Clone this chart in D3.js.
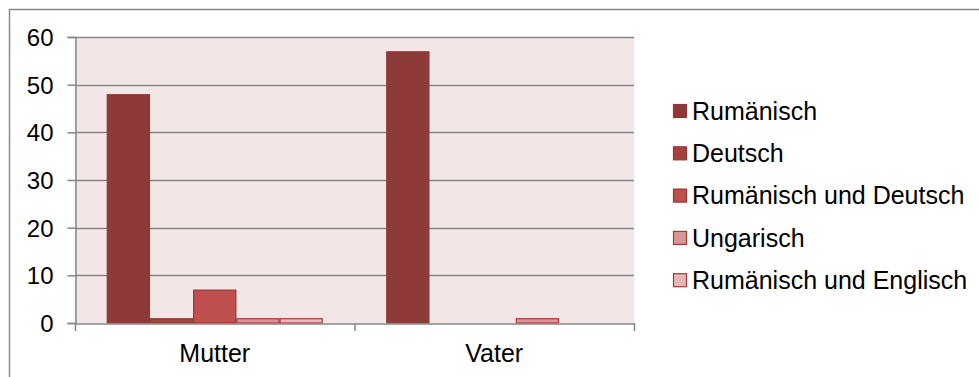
<!DOCTYPE html>
<html>
<head>
<meta charset="utf-8">
<script src="https://cdn.jsdelivr.net/npm/d3@7"></script>
<style>
  html, body { margin: 0; padding: 0; background: #fff; }
  svg { display: block; font-family: "Liberation Sans", Arial, sans-serif; }
</style>
</head>
<body>
<svg id="chart" width="979" height="377"></svg>
<script>
// Categories on the x axis
const categories = ["Mutter", "Vater"];
// Series (languages) in legend order
const seriesNames = ["Rumänisch", "Deutsch", "Rumänisch und Deutsch", "Ungarisch", "Rumänisch und Englisch"];
// Values per series, one entry per category
const rumaenisch = [48, 57];
const deutsch = [1, 0];
const rumaenischDeutsch = [7, 0];
const ungarisch = [1, 1];
const rumaenischEnglisch = [1, 0];
const yTicks = [0, 10, 20, 30, 40, 50, 60];

const seriesValues = [rumaenisch, deutsch, rumaenischDeutsch, ungarisch, rumaenischEnglisch];
const fills = ["#8e3a38", "#a7413e", "#c0504d", "#d99694", "#e6b9b8"];
const strokes = ["#8e3a38", "#8e3a38", "#953735", "#a03c3a", "#a03c3a"];
const fontSize = 25;

const svg = d3.select("#chart");

// Outer chart frame
svg.append("rect")
  .attr("x", 9.5).attr("y", 9.5)
  .attr("width", 1000).attr("height", 400)
  .attr("fill", "#fff").attr("stroke", "#8a8a8a").attr("stroke-width", 1.5);

const plot = { left: 75, right: 634, top: 37, bottom: 323 };

const x0 = d3.scaleBand().domain(categories).range([plot.left, plot.right]).paddingInner(0).paddingOuter(0);
const x1 = d3.scaleBand().domain(seriesNames).range([0, x0.bandwidth()]).paddingOuter(0.735).paddingInner(0);
const y = d3.scaleLinear().domain([0, 60]).range([plot.bottom, plot.top]);

// Plot background
svg.append("rect")
  .attr("x", plot.left).attr("y", plot.top)
  .attr("width", plot.right - plot.left).attr("height", plot.bottom - plot.top)
  .attr("fill", "#f2e6e6");

// Horizontal gridlines
svg.append("g")
  .selectAll("line")
  .data(yTicks.filter(d => d > 0))
  .join("line")
  .attr("x1", plot.left).attr("x2", plot.right)
  .attr("y1", d => Math.round(y(d)) + 0.5).attr("y2", d => Math.round(y(d)) + 0.5)
  .attr("stroke", "#868686").attr("stroke-width", 1.3);

// Bars
const rows = [];
categories.forEach((c, ci) => {
  seriesNames.forEach((s, si) => {
    rows.push({ cat: c, series: s, si, value: seriesValues[si][ci] });
  });
});

svg.append("g")
  .selectAll("rect")
  .data(rows.filter(d => d.value > 0))
  .join("rect")
  .attr("x", d => x0(d.cat) + x1(d.series) + 0.5)
  .attr("y", d => y(d.value) + 0.5)
  .attr("width", x1.bandwidth() - 1)
  .attr("height", d => y(0) - y(d.value) - 0.5)
  .attr("fill", d => fills[d.si])
  .attr("stroke", d => strokes[d.si])
  .attr("stroke-width", 1.2);

// Y axis
const yAxis = svg.append("g")
  .attr("transform", `translate(${plot.left + 0.5},0)`)
  .call(d3.axisLeft(y).tickValues(yTicks).tickSize(8).tickPadding(14).tickFormat(d3.format("d")));
yAxis.select(".domain").attr("stroke", "#868686").attr("stroke-width", 1.5);
yAxis.selectAll(".tick line").attr("stroke", "#868686").attr("stroke-width", 1.5);
yAxis.selectAll(".tick text")
  .attr("fill", "#000").attr("font-size", 24).attr("font-family", "Liberation Sans, Arial, sans-serif")
  .attr("dy", "0.35em");

// X axis
const xAxis = svg.append("g")
  .attr("transform", `translate(0,${plot.bottom + 0.5})`)
  .call(d3.axisBottom(x0).tickSize(0).tickPadding(21));
xAxis.select(".domain").attr("stroke", "#868686").attr("stroke-width", 1.5);
xAxis.selectAll(".tick text")
  .attr("fill", "#000").attr("font-size", fontSize).attr("font-family", "Liberation Sans, Arial, sans-serif")
  .attr("dy", "0.71em");

// Category separator ticks on the x axis
const bounds = [plot.left, plot.left + x0.step(), plot.right];
svg.append("g")
  .selectAll("line")
  .data(bounds)
  .join("line")
  .attr("x1", d => d + 0.5).attr("x2", d => d + 0.5)
  .attr("y1", plot.bottom).attr("y2", plot.bottom + 8)
  .attr("stroke", "#868686").attr("stroke-width", 1.5);

// Legend
const legend = svg.append("g").attr("transform", "translate(673,111)");
const item = legend.selectAll("g")
  .data(seriesNames)
  .join("g")
  .attr("transform", (d, i) => `translate(0,${i * 42.3})`);
item.append("rect")
  .attr("x", 0.5).attr("y", -6.5)
  .attr("width", 13).attr("height", 13)
  .attr("fill", (d, i) => fills[i])
  .attr("stroke", (d, i) => strokes[i])
  .attr("stroke-width", 1.2);
item.append("text")
  .attr("x", 19).attr("y", 0).attr("dy", "0.35em")
  .attr("font-size", fontSize).attr("fill", "#000")
  .text(d => d);
</script>
</body>
</html>
